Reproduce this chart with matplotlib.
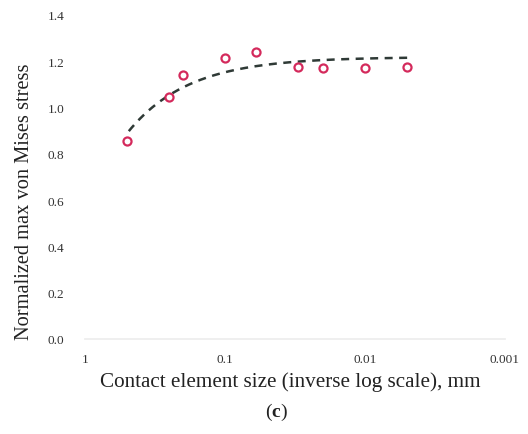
import numpy as np
import matplotlib
matplotlib.use("Agg")
import matplotlib.pyplot as plt

plt.rcParams['font.family'] = ['Liberation Serif', 'DejaVu Serif']
plt.rcParams['mathtext.fontset'] = 'custom'
plt.rcParams['mathtext.rm'] = 'Liberation Serif'
plt.rcParams['mathtext.bf'] = 'Liberation Serif:bold'

# Data
element_size = [0.5, 0.25, 0.2, 0.1, 0.06, 0.03, 0.02, 0.01, 0.005]
norm_stress = [0.855, 1.047, 1.142, 1.215, 1.24, 1.176, 1.169, 1.173, 1.176]

x_ticks = [1, 0.1, 0.01, 0.001]
x_tick_labels = ["1", "0.1", "0.01", "0.001"]
y_ticks = [0.0, 0.2, 0.4, 0.6, 0.8, 1.0, 1.2, 1.4]
y_tick_labels = ["0.0", "0.2", "0.4", "0.6", "0.8", "1.0", "1.2", "1.4"]

fig = plt.figure(figsize=(5.28, 4.35), dpi=100)
ax = fig.add_axes([85/528, 1 - 340/435, 420/528, 324/435])

# Linear trendline (fit in linear x, shown on log axis)
coef = np.polyfit(element_size, norm_stress, 1)
xf = np.geomspace(min(element_size), max(element_size), 200)
ax.plot(xf, np.polyval(coef, xf), color='#2f3a36', lw=1.8,
        linestyle=(0, (3.2, 2.6)), zorder=2)

ax.plot(element_size, norm_stress, linestyle='none', marker='o',
        markersize=5.8, markerfacecolor='white', markeredgecolor='#d42a5c',
        markeredgewidth=1.6, zorder=3)

ax.set_xscale('log')
ax.set_xlim(1, 0.001)
ax.set_ylim(0, 1.4)
ax.set_xticks(x_ticks)
ax.set_xticklabels(x_tick_labels)
ax.minorticks_off()
ax.set_yticks(y_ticks)
ax.set_yticklabels(y_tick_labels)
ax.tick_params(axis='both', length=0, labelsize=9.5, colors='#333333')
ax.tick_params(axis='y', pad=15)
ax.tick_params(axis='x', pad=10)

for s in ['top', 'right', 'left']:
    ax.spines[s].set_visible(False)
ax.spines['bottom'].set_color('#ececec')
ax.spines['bottom'].set_linewidth(1.2)

ax.set_xlabel("Contact element size (inverse log scale), mm", fontsize=15.2,
              color='#222222')
ax.xaxis.set_label_coords((290 - 85) / 420, -(382 - 340) / 324)
ax.xaxis.label.set_va('center')
ax.set_ylabel("Normalized max von Mises stress", fontsize=14.7,
              color='#222222')
ax.yaxis.set_label_coords(-(85 - 25) / 420, (340 - 202) / 324)
ax.yaxis.label.set_va('center')
ax.yaxis.label.set_ha('center')

fig.text(276/528, 1 - 412/435, r"($\mathbf{c}$)", fontsize=14,
         ha='center', va='center', color='#222222')

fig.savefig("out.png", dpi=100)
